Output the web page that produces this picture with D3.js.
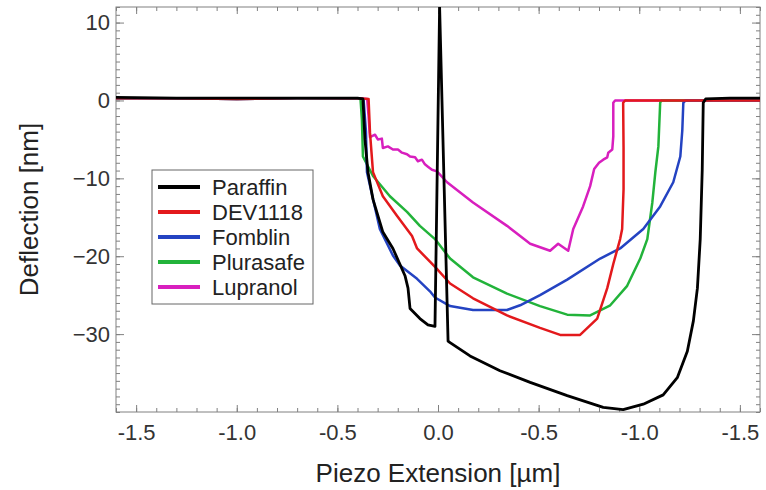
<!DOCTYPE html>
<html>
<head>
<meta charset="utf-8">
<script src="https://cdn.jsdelivr.net/npm/d3@7"></script>
<style>
body { margin: 0; background: #fff; }
text { font-family: Arial, "Liberation Sans", sans-serif; }
</style>
</head>
<body>
<div id="chart"></div>
<script>
var svgWidth = 766;
var svgHeight = 490;

var margin = { top: 7, right: 6, bottom: 78, left: 116 };
var width = svgWidth - margin.left - margin.right;
var height = svgHeight - margin.top - margin.bottom;

var xTicks = [-1.5, -1.0, -0.5, 0, 0.5, 1.0, 1.5];
var xTickLabels = ["-1.5", "-1.0", "-0.5", "0.0", "-0.5", "-1.0", "-1.5"];
var yTicks = [10, 0, -10, -20, -30];

var seriesNames = ["Paraffin", "DEV1118", "Fomblin", "Plurasafe", "Lupranol"];
var seriesColors = ["#000000", "#e3191c", "#2443c2", "#22b33a", "#d81fbe"];

var paraffin = [[-1.6,0.4],[-1.3,0.3],[-1.0,0.3],[-0.7,0.3],[-0.4,0.3],[-0.373,0.2],[-0.363,-5.0],[-0.348,-9.2],
  [-0.323,-12.7],[-0.274,-16.9],[-0.224,-19.0],[-0.164,-22.5],[-0.149,-24.1],[-0.139,-26.7],[-0.09,-28.0],
  [-0.05,-28.8],[-0.015,-29.0],[0.008,12],[0.05,-30.9],[0.06,-31.1],[0.159,-32.8],[0.308,-34.7],[0.458,-36.2],
  [0.642,-37.9],[0.821,-39.4],[0.92,-39.7],[1.02,-39.0],[1.119,-37.8],[1.189,-35.6],[1.239,-32.2],[1.269,-28.3],
  [1.289,-24.1],[1.303,-17.8],[1.313,-8.9],[1.318,-0.3],[1.33,0.2],[1.45,0.3],[1.6,0.3]];

var dev1118 = [[-1.6,0.3],[-1.3,0.3],[-1.0,0.2],[-0.7,0.3],[-0.4,0.3],[-0.345,0.2],[-0.338,-4.1],[-0.323,-9.2],
  [-0.274,-12.3],[-0.204,-14.8],[-0.129,-17.4],[-0.104,-19.0],[-0.04,-20.7],[-0.01,-21.5],[0.06,-23.5],
  [0.174,-25.4],[0.343,-27.6],[0.507,-29.2],[0.607,-30.1],[0.706,-30.1],[0.791,-28.0],[0.841,-24.1],
  [0.871,-21.0],[0.905,-17.8],[0.915,-16.5],[0.922,-11.4],[0.922,-6.0],[0.92,-0.3],[0.93,0],[1.6,0]];

var fomblin = [[-1.6,0.3],[-1.3,0.3],[-1.0,0.2],[-0.7,0.3],[-0.4,0.3],[-0.37,0.2],[-0.358,-4.0],[-0.353,-9.2],
  [-0.289,-16.5],[-0.224,-19.9],[-0.189,-21.2],[-0.104,-22.9],[-0.04,-24.5],[-0.015,-25.3],[0.06,-26.4],
  [0.174,-26.9],[0.343,-26.9],[0.408,-26.3],[0.507,-25.0],[0.642,-23.0],[0.806,-20.3],[0.905,-19.0],
  [1.02,-16.5],[1.104,-13.6],[1.169,-10.5],[1.204,-7.2],[1.214,-3.8],[1.219,-0.3],[1.23,0],[1.6,0]];

var plurasafe = [[-1.6,0.3],[-1.3,0.3],[-1.0,0.2],[-0.7,0.3],[-0.4,0.3],[-0.385,0.2],[-0.378,-2.5],[-0.373,-7.2],
  [-0.323,-9.7],[-0.239,-12.3],[-0.154,-14.3],[-0.09,-16.1],[-0.015,-17.8],[0.06,-20.3],[0.174,-22.7],
  [0.343,-24.8],[0.507,-26.4],[0.642,-27.5],[0.756,-27.6],[0.856,-26.3],[0.94,-23.8],[1.005,-20.3],
  [1.04,-17.8],[1.065,-13.1],[1.08,-9.2],[1.095,-5.9],[1.104,-0.3],[1.11,0],[1.6,0]];

var lupranol = [[-1.6,0.3],[-1.3,0.3],[-1.0,0.2],[-0.7,0.3],[-0.4,0.3],[-0.352,0.2],[-0.345,-2.0],[-0.338,-4.7],
  [-0.313,-4.4],[-0.299,-5.0],[-0.279,-4.9],[-0.274,-6.1],[-0.249,-5.9],[-0.224,-6.3],[-0.199,-6.3],
  [-0.179,-6.7],[-0.154,-6.9],[-0.139,-7.2],[-0.114,-7.3],[-0.1,-7.8],[-0.08,-7.6],[-0.065,-8.2],
  [-0.05,-8.5],[-0.03,-8.9],[-0.005,-9.1],[0.045,-10.5],[0.174,-13.1],[0.343,-16.1],[0.458,-18.4],
  [0.557,-19.3],[0.597,-18.4],[0.647,-19.3],[0.672,-16.5],[0.721,-13.6],[0.756,-11.0],[0.776,-8.8],
  [0.8,-8.0],[0.821,-7.6],[0.841,-7.3],[0.846,-6.7],[0.866,-6.3],[0.871,-4.6],[0.871,-0.3],[0.88,0],[1.6,0]];

var seriesData = [paraffin, dev1118, fomblin, plurasafe, lupranol];

var svg = d3.select("#chart")
    .append("svg")
    .attr("width", svgWidth)
    .attr("height", svgHeight);

var chartGroup = svg.append("g")
    .attr("transform", `translate(${margin.left}, ${margin.top})`);

var x = d3.scaleLinear().domain([-1.6, 1.6]).range([0, width]);
var y = d3.scaleLinear().domain([-40, 12]).range([height, 0]);

var xMinor = d3.range(-16, 17).map(d => d / 10);
var yMinor = d3.range(-40, 13);

var axisColor = "#808080";

function styleAxis(g, labelled) {
    g.select(".domain").remove();
    g.selectAll("line").attr("stroke", axisColor);
    if (labelled) {
        g.attr("font-size", 22)
            .attr("font-family", "Arial, 'Liberation Sans', sans-serif");
        g.selectAll("text").attr("fill", "#333");
    }
}

chartGroup.append("g")
    .attr("transform", `translate(0, ${height})`)
    .call(d3.axisBottom(x).tickValues(xMinor).tickSize(-4).tickFormat(""))
    .call(g => styleAxis(g, false));

chartGroup.append("g")
    .attr("transform", `translate(0, ${height})`)
    .call(d3.axisBottom(x).tickValues(xTicks).tickSize(-7).tickPadding(12)
        .tickFormat(d => xTickLabels[xTicks.indexOf(d)]))
    .call(g => styleAxis(g, true));

chartGroup.append("g")
    .call(d3.axisTop(x).tickValues(xMinor).tickSize(-4).tickFormat(""))
    .call(g => styleAxis(g, false));

chartGroup.append("g")
    .call(d3.axisTop(x).tickValues(xTicks).tickSize(-7).tickFormat(""))
    .call(g => styleAxis(g, false));

chartGroup.append("g")
    .call(d3.axisLeft(y).tickValues(yMinor).tickSize(-4).tickFormat(""))
    .call(g => styleAxis(g, false));

chartGroup.append("g")
    .call(d3.axisLeft(y).tickValues(yTicks).tickSize(-8).tickPadding(6))
    .call(g => styleAxis(g, true));

chartGroup.append("g")
    .attr("transform", `translate(${width}, 0)`)
    .call(d3.axisRight(y).tickValues(yMinor).tickSize(-4).tickFormat(""))
    .call(g => styleAxis(g, false));

chartGroup.append("g")
    .attr("transform", `translate(${width}, 0)`)
    .call(d3.axisRight(y).tickValues(yTicks).tickSize(-8).tickFormat(""))
    .call(g => styleAxis(g, false));

chartGroup.append("rect")
    .attr("width", width)
    .attr("height", height)
    .attr("fill", "none")
    .attr("stroke", axisColor)
    .attr("stroke-width", 1);

svg.append("clipPath")
    .attr("id", "plotClip")
    .append("rect")
    .attr("width", width)
    .attr("height", height);

var line = d3.line()
    .x(d => x(d[0]))
    .y(d => y(d[1]));

var linesGroup = chartGroup.append("g")
    .attr("clip-path", "url(#plotClip)");

for (var i = seriesData.length - 1; i >= 0; i--) {
    linesGroup.append("path")
        .datum(seriesData[i])
        .attr("fill", "none")
        .attr("stroke", seriesColors[i])
        .attr("stroke-width", i === 0 ? 2.8 : 2.5)
        .attr("stroke-linejoin", "round")
        .attr("d", line);
}

// legend
var legend = svg.append("g")
    .attr("transform", "translate(152, 170)");

legend.append("rect")
    .attr("width", 161)
    .attr("height", 134)
    .attr("fill", "#fff")
    .attr("stroke", "#666")
    .attr("stroke-width", 1);

seriesNames.forEach(function(name, i) {
    var row = legend.append("g")
        .attr("transform", `translate(0, ${17 + i * 25})`);
    row.append("line")
        .attr("x1", 6)
        .attr("x2", 48)
        .attr("stroke", seriesColors[i])
        .attr("stroke-width", 4);
    row.append("text")
        .attr("x", 60)
        .attr("dy", "0.35em")
        .attr("font-size", 22)
        .attr("fill", "#222")
        .text(name);
});

svg.append("text")
    .attr("x", margin.left + width / 2)
    .attr("y", 482)
    .attr("text-anchor", "middle")
    .attr("font-size", 26)
    .attr("fill", "#222")
    .text("Piezo Extension [µm]");

svg.append("text")
    .attr("transform", `translate(38, ${margin.top + height / 2}) rotate(-90)`)
    .attr("text-anchor", "middle")
    .attr("font-size", 26)
    .attr("fill", "#222")
    .text("Deflection [nm]");
</script>
</body>
</html>
